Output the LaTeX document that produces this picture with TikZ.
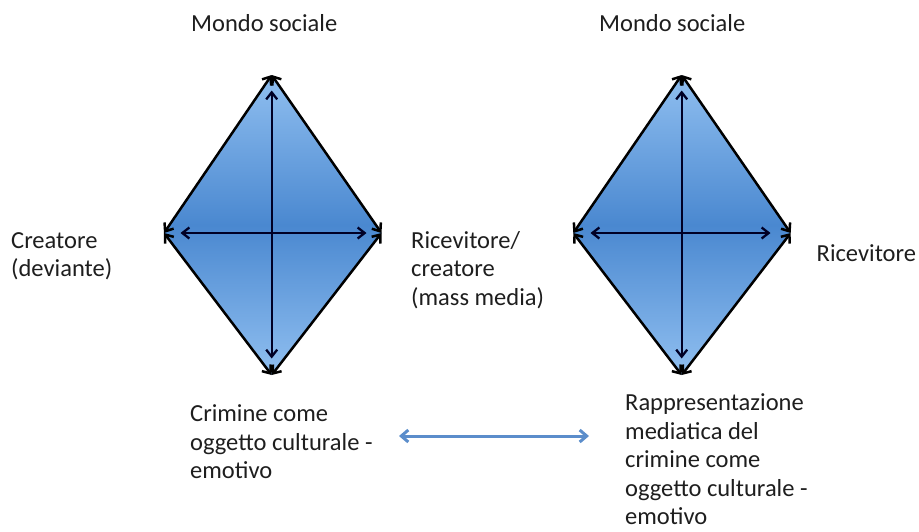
\documentclass[tikz,border=0pt]{standalone}
\usepackage{fontspec}
\setmainfont{Carlito}
\usetikzlibrary{arrows.meta}
\definecolor{fillmid}{HTML}{4A88D0}
\definecolor{fillend}{HTML}{90BFF0}
\definecolor{linkblue}{HTML}{5B8DCB}
\definecolor{txt}{HTML}{1E1E1E}
\begin{document}
\begin{tikzpicture}[x=1pt,y=-1pt,
  lbl/.style={anchor=base west,inner sep=0pt,align=left,text=txt,
    font=\fontsize{24.5}{28.5}\selectfont},
  side/.style={line width=2.5pt,black,{Straight Barb[length=7pt,width=11pt]}-{Straight Barb[length=7pt,width=11pt]}},
  axis/.style={line width=2.3pt,black!85!blue,{Straight Barb[length=7pt,width=11pt]}-{Straight Barb[length=7pt,width=11pt]}},
  link/.style={line width=3pt,linkblue,{Straight Barb[length=7pt,width=12pt]}-{Straight Barb[length=7pt,width=12pt]}},
  fillshade/.style={top color=fillend,bottom color=fillend,middle color=fillmid}]
\useasboundingbox (0,0) rectangle (919,531);

% left diamond: creator / receiver
\coordinate (aT) at (271.7,75);
\coordinate (aR) at (381.5,233);
\coordinate (aB) at (271.7,375);
\coordinate (aL) at (164,233);
\coordinate (aVt) at (271.7,90.5);
\coordinate (aVb) at (271.7,358.5);
\coordinate (aHl) at (180.5,233);
\coordinate (aHr) at (366.5,233);
\shade[fillshade] (aT) -- (aR) -- (aB) -- (aL) -- cycle;
\draw[side] (aT) -- (aR);
\draw[side] (aR) -- (aB);
\draw[side] (aB) -- (aL);
\draw[side] (aL) -- (aT);
\draw[axis] (aVt) -- (aVb);
\draw[axis] (aHl) -- (aHr);

% right diamond: media representation
\coordinate (bT) at (681.7,75);
\coordinate (bR) at (790.7,233);
\coordinate (bB) at (681.7,375);
\coordinate (bL) at (573.3,233);
\coordinate (bVt) at (681.7,90.5);
\coordinate (bVb) at (681.7,358.5);
\coordinate (bHl) at (590.5,233);
\coordinate (bHr) at (770.5,233);
\shade[fillshade] (bT) -- (bR) -- (bB) -- (bL) -- cycle;
\draw[side] (bT) -- (bR);
\draw[side] (bR) -- (bB);
\draw[side] (bB) -- (bL);
\draw[side] (bL) -- (bT);
\draw[axis] (bVt) -- (bVb);
\draw[axis] (bHl) -- (bHr);

% labels (base anchor sits on the last line)
\node[lbl] (msA) at (191,31.5) {Mondo sociale};
\node[lbl] (msB) at (599,31.5) {Mondo sociale};
\node[lbl] (crea) at (11,276.5) {Creatore\\(deviante)};
\node[lbl] (ricA) at (411,305) {Ricevitore/\\creatore\\(mass media)};
\node[lbl] (ricB) at (816.5,261.5) {Ricevitore};
\node[lbl] (crim) at (190,478.5) {Crimine come\\oggetto culturale -\\emotivo};
\node[lbl] (rapp) at (625,524.5) {Rappresentazione\\mediatica del\\crimine come\\oggetto culturale -\\emotivo};

% link between the two cultural objects
\coordinate (lkL) at (399,436);
\coordinate (lkR) at (589,436);
\draw[link] (lkL) -- (lkR);
\end{tikzpicture}
\end{document}
